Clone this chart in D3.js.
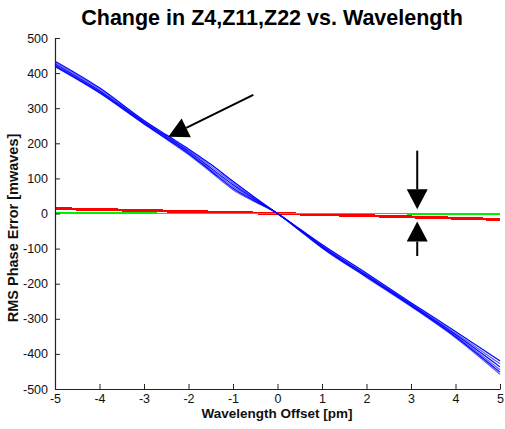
<!DOCTYPE html>
<html>
<head>
<meta charset="utf-8">
<script src="https://cdn.jsdelivr.net/npm/d3@7"></script>
<style>
  html, body { margin: 0; padding: 0; background: #fff; }
  svg { display: block; font-family: "Liberation Sans", Arial, sans-serif; }
</style>
</head>
<body>
<svg id="chart" width="505" height="429"></svg>
<script>
// Wavelength offsets [pm] at which the aberration terms were sampled
const blueX = [-5, -4, -3, -2.5, -2, -1.5, -1, -0.5, 0, 0.5, 1, 2, 3, 4, 5];
// Z4 (focus) term, one run per line [mwaves]
const z4Runs = [
  [434, 358, 265, 224, 184, 140, 92, 45, 0, -44, -88, -170, -254, -336, -420],
  [430, 354, 262, 221, 180, 135, 87, 42, 0, -45, -91, -174, -257, -341, -428],
  [426, 350, 260, 219, 177, 130, 82, 40, 0, -46, -93, -176, -259, -345, -437],
  [423, 347, 258, 216, 174, 126, 77, 37, 0, -47, -95, -178, -261, -348, -445],
  [420, 345, 256, 214, 171, 122, 72, 35, 0, -48, -97, -180, -263, -351, -452],
  [418, 343, 255, 212, 168, 118, 68, 33, 0, -49, -98, -182, -265, -354, -458]
];
// Z11 and Z22 (spherical) terms
const flatX = [-5, -2.5, 0, 2.5, 5];
const z11Runs = [
  [15, 8, 1, -7, -16],
  [13, 6, -1, -9, -18],
  [14, 7, 0, -8, -17]
];
const z22Runs = [
  [1, 0.5, 0, -0.5, -1],
  [-0.5, -0.5, 0, 0.5, 0.5]
];
const xTicks = [-5, -4, -3, -2, -1, 0, 1, 2, 3, 4, 5];
const yTicks = [-500, -400, -300, -200, -100, 0, 100, 200, 300, 400, 500];
// Annotation arrows in data units: [x1, y1, x2 (tip), y2 (tip)]
const arrows = [
  [-0.544, 338, -2.454, 219],
  [3.14, 179, 3.14, 12],
  [3.14, -121, 3.14, -23]
];

const svg = d3.select("#chart");
const x = d3.scaleLinear().domain([-5, 5]).range([55, 500]);
const y = d3.scaleLinear().domain([-500, 500]).range([389, 38]);

const line = (xs) => d3.line().x((d, i) => x(xs[i])).y(d => y(d)).curve(d3.curveMonotoneX);

// Z11 (red)
svg.append("g").selectAll("path").data(z11Runs).join("path")
  .attr("d", line(flatX)).attr("fill", "none")
  .attr("stroke", "#ff0000").attr("stroke-width", 2.2)
  .attr("shape-rendering", "crispEdges");

// Z22 (green)
svg.append("g").selectAll("path").data(z22Runs).join("path")
  .attr("d", line(flatX)).attr("fill", "none")
  .attr("stroke", "#00ee00").attr("stroke-width", 1.6)
  .attr("shape-rendering", "crispEdges");

// Z4 (blue)
svg.append("g").selectAll("path").data(z4Runs).join("path")
  .attr("d", line(blueX)).attr("fill", "none")
  .attr("stroke", "#0000ff").attr("stroke-width", 1.2)
  .attr("stroke-opacity", (d, i) => (i % 2 ? 0.65 : 1));

// Axes: left and bottom only, ticks pointing inward
const axisColor = "#222";
const xAxis = svg.append("g").attr("transform", `translate(0,${y(-500)})`)
  .call(d3.axisBottom(x).tickValues(xTicks).tickSizeInner(-5).tickSizeOuter(0).tickPadding(5)
    .tickFormat(d3.format("d")));
const yAxis = svg.append("g").attr("transform", `translate(${x(-5)},0)`)
  .call(d3.axisLeft(y).tickValues(yTicks).tickSizeInner(-5).tickSizeOuter(0).tickPadding(7)
    .tickFormat(d3.format("d")));
[xAxis, yAxis].forEach(g => {
  g.select(".domain").attr("stroke", axisColor).attr("stroke-width", 1.2);
  g.selectAll(".tick line").attr("stroke", axisColor);
  g.selectAll(".tick text").attr("fill", "#111")
    .style("font-family", "'Liberation Sans', Arial, sans-serif").style("font-size", "12.5px");
});
xAxis.selectAll(".tick text").text(d => d < 0 ? "-" + Math.abs(d) : d);
yAxis.selectAll(".tick text").text(d => d < 0 ? "-" + Math.abs(d) : d);

// Arrows
const arrowG = svg.append("g");
arrows.forEach(([x1, y1, x2, y2]) => {
  const px1 = x(x1), py1 = y(y1), px2 = x(x2), py2 = y(y2);
  const dx = px2 - px1, dy = py2 - py1, len = Math.hypot(dx, dy);
  const ux = dx / len, uy = dy / len;
  const headL = 20, headW = 10.5;
  const bx = px2 - ux * headL, by = py2 - uy * headL;
  arrowG.append("line").attr("x1", px1).attr("y1", py1).attr("x2", bx).attr("y2", by)
    .attr("stroke", "#000").attr("stroke-width", 2);
  arrowG.append("path")
    .attr("d", `M${px2},${py2}L${bx - uy * headW},${by + ux * headW}L${bx + uy * headW},${by - ux * headW}Z`)
    .attr("fill", "#000");
});

// Title and axis labels
svg.append("text").attr("x", 272).attr("y", 25).attr("text-anchor", "middle")
  .attr("font-weight", "bold").attr("font-size", 21.5).attr("fill", "#000")
  .text("Change in Z4,Z11,Z22 vs. Wavelength");
svg.append("text").attr("x", 277).attr("y", 418).attr("text-anchor", "middle")
  .attr("font-weight", "bold").attr("font-size", 13.5).attr("fill", "#111")
  .text("Wavelength Offset [pm]");
svg.append("text").attr("transform", "translate(18,228) rotate(-90)").attr("text-anchor", "middle")
  .attr("font-weight", "bold").attr("font-size", 14.5).attr("fill", "#111")
  .text("RMS Phase Error [mwaves]");
</script>
</body>
</html>
